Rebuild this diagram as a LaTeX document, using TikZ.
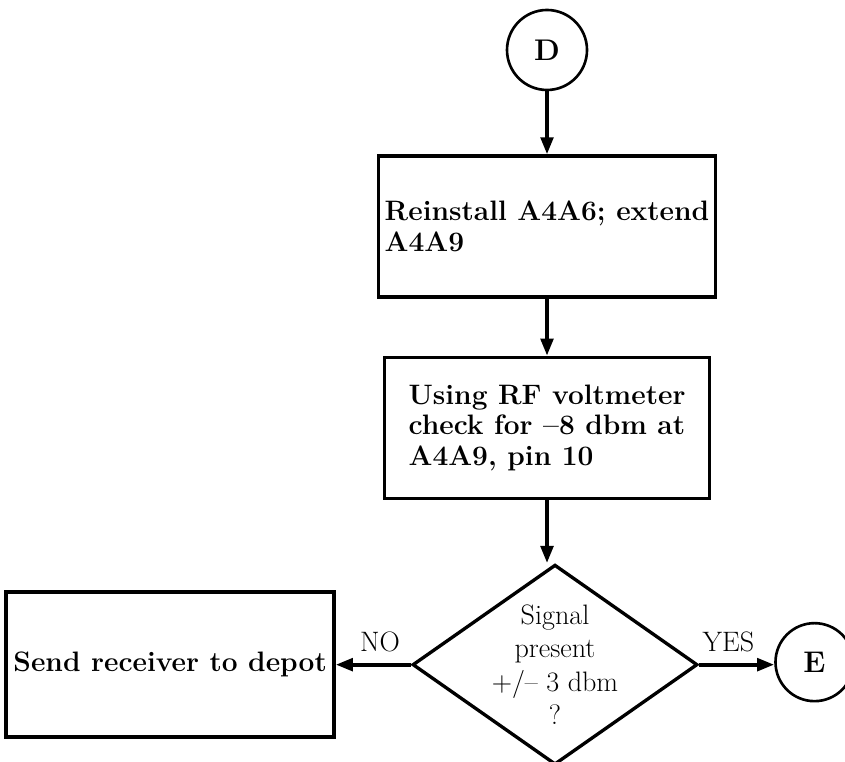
\documentclass[tikz,border=0pt]{standalone}
\usepackage{tikz}
\usetikzlibrary{arrows.meta,positioning,shapes.geometric}
\tikzset{
  stepblk/.style={draw,rectangle,line width=1.9pt,minimum width=6.56cm,minimum height=2.82cm,align=left,inner xsep=0.12cm,font=\fontsize{16}{17.5}\selectfont\bfseries},
  decblk/.style={draw,diamond,line width=1.9pt,minimum width=5.7cm,minimum height=4.0cm,inner sep=0pt},
  dectxt/.style={align=center,font=\fontsize{16}{18.8}\selectfont},
  conn/.style={draw,circle,line width=1.5pt,minimum size=1.6cm,font=\fontsize{17}{18}\selectfont\bfseries},
  arr/.style={-{Triangle[length=0.34cm,width=0.25cm]},line width=2.1pt},
  lbl/.style={font=\fontsize{16}{18}\selectfont}
}

\begin{document}
\begin{tikzpicture}[node distance=1.3cm and 1.5cm]
  \useasboundingbox (0,0) rectangle (16.9,15.22);
  \node[conn] (d) at (10.94,14.22) {D};
  \node[stepblk, below=1.26cm of d] (reinst) {Reinstall A4A6; extend\\A4A9};
  \node[stepblk, below=1.14cm of reinst, minimum width=6.5cm] (meas) {Using RF voltmeter\\check for --8 dbm at\\A4A9, pin 10};
  \node[decblk, below=1.26cm of meas, xshift=0.16cm,
        label={[dectxt]center:Signal\\present\\+/-- 3 dbm\\?}] (sig) {};
  \node[stepblk, left=1.5cm of sig, minimum height=2.9cm] (depot) {Send receiver to depot};
  \node[conn, minimum size=1.56cm, right=1.5cm of sig, yshift=0.05cm] (e) {E};

  \draw[arr] (d)--(reinst);
  \draw[arr] (reinst)--(meas);
  \draw[arr] (meas.south) -- (meas.south |- sig.north);
  \draw[arr] (sig.west) -- node[lbl, above=3pt, pos=0.41] {NO} (depot.east);
  \draw[arr] (sig.east) -- node[lbl, above=3pt, pos=0.39] {YES} (e.west |- sig.east);
\end{tikzpicture}
\end{document}
